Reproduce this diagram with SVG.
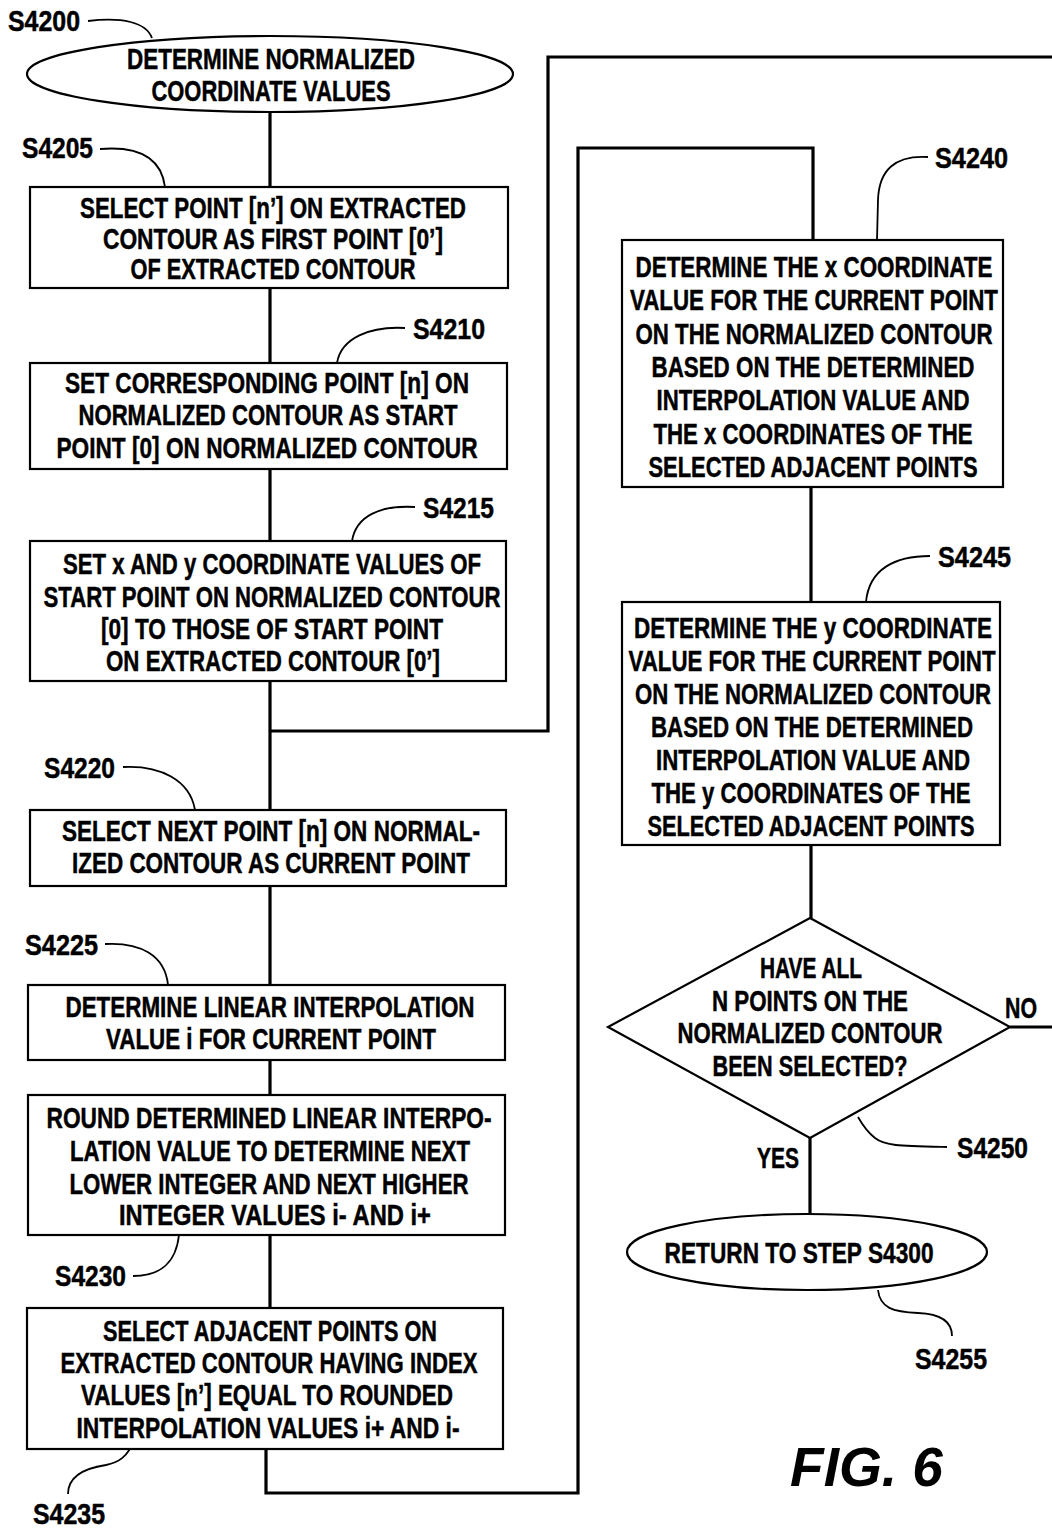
<svg xmlns="http://www.w3.org/2000/svg" width="1052" height="1530" viewBox="0 0 1052 1530">
  <style>
    .bg { fill: #ffffff; }
    .box { fill: #ffffff; stroke: #000; stroke-width: 2.2; }
    .flow { fill: none; stroke: #000; stroke-width: 3.2; stroke-linejoin: miter; }
    .lead { fill: none; stroke: #000; stroke-width: 1.8; }
    .t { font-family: "Liberation Sans", Arial, sans-serif; font-weight: bold; font-size: 30px; fill: #000; stroke: #000; stroke-width: 0.5; text-anchor: middle; }
    .lbl { font-family: "Liberation Sans", Arial, sans-serif; font-weight: bold; font-size: 30px; fill: #000; stroke: #000; stroke-width: 0.5; }
    .fig { font-family: "Liberation Sans", Arial, sans-serif; font-weight: bold; font-style: italic; font-size: 56px; fill: #000; }
  </style>
  <rect class="bg" x="0" y="0" width="1052" height="1530"/>

  <!-- connectors -->
  <g id="connectors">
    <!-- main left column -->
    <path class="flow" d="M270,112 V187 M270,288 V363 M270,469 V541 M270,681 V810 M270,886 V985 M270,1060 V1095 M270,1235 V1308"/>
    <!-- loop return from NO branch back into the left column -->
    <path class="flow" d="M1052,57 H548 V731 H270"/>
    <path class="flow" d="M1010,1027 H1052"/>
    <!-- left column bottom to right column top -->
    <path class="flow" d="M266,1449 V1493 H578 V148 H813 V240"/>
    <!-- right column -->
    <path class="flow" d="M811,487 V602 M811,845 V918 M810,1138 V1215"/>
  </g>

  <!-- step label leaders -->
  <g id="leaders">
    <path class="lead" d="M88,21 C122,17 146,22 152,38"/>
    <path class="lead" d="M100,149 C136,146 161,156 165,187"/>
    <path class="lead" d="M405,328 C370,326 341,338 337,363"/>
    <path class="lead" d="M415,507 C380,505 356,516 352,541"/>
    <path class="lead" d="M123,767 C160,765 190,780 195,810"/>
    <path class="lead" d="M105,944 C140,942 165,955 168,985"/>
    <path class="lead" d="M133,1276 C162,1276 176,1262 179,1235"/>
    <path class="lead" d="M68,1494 C68,1476 86,1468 106,1465 C121,1462 126,1455 130,1449"/>
    <path class="lead" d="M928,157 C895,155 879,170 878,200 L877,240"/>
    <path class="lead" d="M930,556 C895,556 869,569 866,602"/>
    <path class="lead" d="M947,1147 C900,1146 885,1146 875,1138 C866,1131 862,1124 858,1117"/>
    <path class="lead" d="M878,1290 C880,1308 893,1312 918,1313 C944,1314 952,1324 952,1336"/>
  </g>

  <!-- step labels -->
  <g id="labels">
    <text class="lbl" x="8" y="31" textLength="72" lengthAdjust="spacingAndGlyphs">S4200</text>
    <text class="lbl" x="22" y="158" textLength="71" lengthAdjust="spacingAndGlyphs">S4205</text>
    <text class="lbl" x="413" y="339" textLength="72" lengthAdjust="spacingAndGlyphs">S4210</text>
    <text class="lbl" x="423" y="518" textLength="71" lengthAdjust="spacingAndGlyphs">S4215</text>
    <text class="lbl" x="44" y="778" textLength="71" lengthAdjust="spacingAndGlyphs">S4220</text>
    <text class="lbl" x="25" y="955" textLength="73" lengthAdjust="spacingAndGlyphs">S4225</text>
    <text class="lbl" x="55" y="1286" textLength="71" lengthAdjust="spacingAndGlyphs">S4230</text>
    <text class="lbl" x="33" y="1524" textLength="72" lengthAdjust="spacingAndGlyphs">S4235</text>
    <text class="lbl" x="935" y="168" textLength="73" lengthAdjust="spacingAndGlyphs">S4240</text>
    <text class="lbl" x="938" y="567" textLength="73" lengthAdjust="spacingAndGlyphs">S4245</text>
    <text class="lbl" x="957" y="1158" textLength="71" lengthAdjust="spacingAndGlyphs">S4250</text>
    <text class="lbl" x="915" y="1369" textLength="72" lengthAdjust="spacingAndGlyphs">S4255</text>
    <text class="lbl" x="1005" y="1018" textLength="32" lengthAdjust="spacingAndGlyphs">NO</text>
    <text class="lbl" x="757" y="1168" textLength="42" lengthAdjust="spacingAndGlyphs">YES</text>
  </g>

  <!-- S4200 start -->
  <g id="s4200">
    <ellipse class="box" cx="270" cy="74" rx="243" ry="38"/>
    <text class="t" x="271" y="69" textLength="288" lengthAdjust="spacingAndGlyphs">DETERMINE NORMALIZED</text>
    <text class="t" x="271" y="101" textLength="239" lengthAdjust="spacingAndGlyphs">COORDINATE VALUES</text>
  </g>

  <!-- S4205 -->
  <g id="s4205">
    <rect class="box" x="30" y="187" width="478" height="101"/>
    <text class="t" x="273" y="218" textLength="386" lengthAdjust="spacingAndGlyphs">SELECT POINT [n’] ON EXTRACTED</text>
    <text class="t" x="273" y="249" textLength="340" lengthAdjust="spacingAndGlyphs">CONTOUR AS FIRST POINT [0’]</text>
    <text class="t" x="273" y="279" textLength="285" lengthAdjust="spacingAndGlyphs">OF EXTRACTED CONTOUR</text>
  </g>

  <!-- S4210 -->
  <g id="s4210">
    <rect class="box" x="30" y="363" width="477" height="106"/>
    <text class="t" x="267" y="393" textLength="404" lengthAdjust="spacingAndGlyphs">SET CORRESPONDING POINT [n] ON</text>
    <text class="t" x="268" y="425" textLength="379" lengthAdjust="spacingAndGlyphs">NORMALIZED CONTOUR AS START</text>
    <text class="t" x="267" y="458" textLength="421" lengthAdjust="spacingAndGlyphs">POINT [0] ON NORMALIZED CONTOUR</text>
  </g>

  <!-- S4215 -->
  <g id="s4215">
    <rect class="box" x="30" y="541" width="476" height="140"/>
    <text class="t" x="272" y="574" textLength="418" lengthAdjust="spacingAndGlyphs">SET x AND y COORDINATE VALUES OF</text>
    <text class="t" x="272" y="607" textLength="457" lengthAdjust="spacingAndGlyphs">START POINT ON NORMALIZED CONTOUR</text>
    <text class="t" x="272" y="639" textLength="342" lengthAdjust="spacingAndGlyphs">[0] TO THOSE OF START POINT</text>
    <text class="t" x="273" y="671" textLength="334" lengthAdjust="spacingAndGlyphs">ON EXTRACTED CONTOUR [0’]</text>
  </g>

  <!-- S4220 -->
  <g id="s4220">
    <rect class="box" x="30" y="810" width="476" height="76"/>
    <text class="t" x="271" y="841" textLength="418" lengthAdjust="spacingAndGlyphs">SELECT NEXT POINT [n] ON NORMAL-</text>
    <text class="t" x="271" y="873" textLength="398" lengthAdjust="spacingAndGlyphs">IZED CONTOUR AS CURRENT POINT</text>
  </g>

  <!-- S4225 -->
  <g id="s4225">
    <rect class="box" x="28" y="985" width="477" height="75"/>
    <text class="t" x="270" y="1017" textLength="409" lengthAdjust="spacingAndGlyphs">DETERMINE LINEAR INTERPOLATION</text>
    <text class="t" x="271" y="1049" textLength="330" lengthAdjust="spacingAndGlyphs">VALUE i FOR CURRENT POINT</text>
  </g>

  <!-- S4230 -->
  <g id="s4230">
    <rect class="box" x="28" y="1095" width="477" height="140"/>
    <text class="t" x="269" y="1128" textLength="445" lengthAdjust="spacingAndGlyphs">ROUND DETERMINED LINEAR INTERPO-</text>
    <text class="t" x="270" y="1161" textLength="400" lengthAdjust="spacingAndGlyphs">LATION VALUE TO DETERMINE NEXT</text>
    <text class="t" x="269" y="1194" textLength="399" lengthAdjust="spacingAndGlyphs">LOWER INTEGER AND NEXT HIGHER</text>
    <text class="t" x="275" y="1225" textLength="312" lengthAdjust="spacingAndGlyphs">INTEGER VALUES i- AND i+</text>
  </g>

  <!-- S4235 -->
  <g id="s4235">
    <rect class="box" x="27" y="1308" width="476" height="141"/>
    <text class="t" x="270" y="1341" textLength="334" lengthAdjust="spacingAndGlyphs">SELECT ADJACENT POINTS ON</text>
    <text class="t" x="269" y="1373" textLength="417" lengthAdjust="spacingAndGlyphs">EXTRACTED CONTOUR HAVING INDEX</text>
    <text class="t" x="267" y="1405" textLength="372" lengthAdjust="spacingAndGlyphs">VALUES [n’] EQUAL TO ROUNDED</text>
    <text class="t" x="268" y="1438" textLength="383" lengthAdjust="spacingAndGlyphs">INTERPOLATION VALUES i+ AND i-</text>
  </g>

  <!-- S4240 -->
  <g id="s4240">
    <rect class="box" x="622" y="240" width="381" height="247"/>
    <text class="t" x="814" y="277" textLength="357" lengthAdjust="spacingAndGlyphs">DETERMINE THE x COORDINATE</text>
    <text class="t" x="814" y="310" textLength="368" lengthAdjust="spacingAndGlyphs">VALUE FOR THE CURRENT POINT</text>
    <text class="t" x="814" y="344" textLength="357" lengthAdjust="spacingAndGlyphs">ON THE NORMALIZED CONTOUR</text>
    <text class="t" x="813" y="377" textLength="323" lengthAdjust="spacingAndGlyphs">BASED ON THE DETERMINED</text>
    <text class="t" x="813" y="410" textLength="313" lengthAdjust="spacingAndGlyphs">INTERPOLATION VALUE AND</text>
    <text class="t" x="813" y="444" textLength="319" lengthAdjust="spacingAndGlyphs">THE x COORDINATES OF THE</text>
    <text class="t" x="813" y="477" textLength="329" lengthAdjust="spacingAndGlyphs">SELECTED ADJACENT POINTS</text>
  </g>

  <!-- S4245 -->
  <g id="s4245">
    <rect class="box" x="622" y="602" width="378" height="243"/>
    <text class="t" x="813" y="638" textLength="358" lengthAdjust="spacingAndGlyphs">DETERMINE THE y COORDINATE</text>
    <text class="t" x="812" y="671" textLength="367" lengthAdjust="spacingAndGlyphs">VALUE FOR THE CURRENT POINT</text>
    <text class="t" x="813" y="704" textLength="356" lengthAdjust="spacingAndGlyphs">ON THE NORMALIZED CONTOUR</text>
    <text class="t" x="812" y="737" textLength="322" lengthAdjust="spacingAndGlyphs">BASED ON THE DETERMINED</text>
    <text class="t" x="813" y="770" textLength="314" lengthAdjust="spacingAndGlyphs">INTERPOLATION VALUE AND</text>
    <text class="t" x="811" y="803" textLength="319" lengthAdjust="spacingAndGlyphs">THE y COORDINATES OF THE</text>
    <text class="t" x="811" y="836" textLength="327" lengthAdjust="spacingAndGlyphs">SELECTED ADJACENT POINTS</text>
  </g>

  <!-- S4250 decision -->
  <g id="s4250">
    <polygon class="box" points="810,918 1010,1027 810,1138 608,1027"/>
    <text class="t" x="811" y="978" textLength="102" lengthAdjust="spacingAndGlyphs">HAVE ALL</text>
    <text class="t" x="810" y="1011" textLength="196" lengthAdjust="spacingAndGlyphs">N POINTS ON THE</text>
    <text class="t" x="810" y="1043" textLength="265" lengthAdjust="spacingAndGlyphs">NORMALIZED CONTOUR</text>
    <text class="t" x="810" y="1076" textLength="195" lengthAdjust="spacingAndGlyphs">BEEN SELECTED?</text>
  </g>

  <!-- S4255 end -->
  <g id="s4255">
    <ellipse class="box" cx="807" cy="1252" rx="180" ry="38"/>
    <text class="t" x="799" y="1263" textLength="269" lengthAdjust="spacingAndGlyphs">RETURN TO STEP S4300</text>
  </g>

  <text class="fig" x="790" y="1486" textLength="153" lengthAdjust="spacingAndGlyphs">FIG. 6</text>
</svg>
